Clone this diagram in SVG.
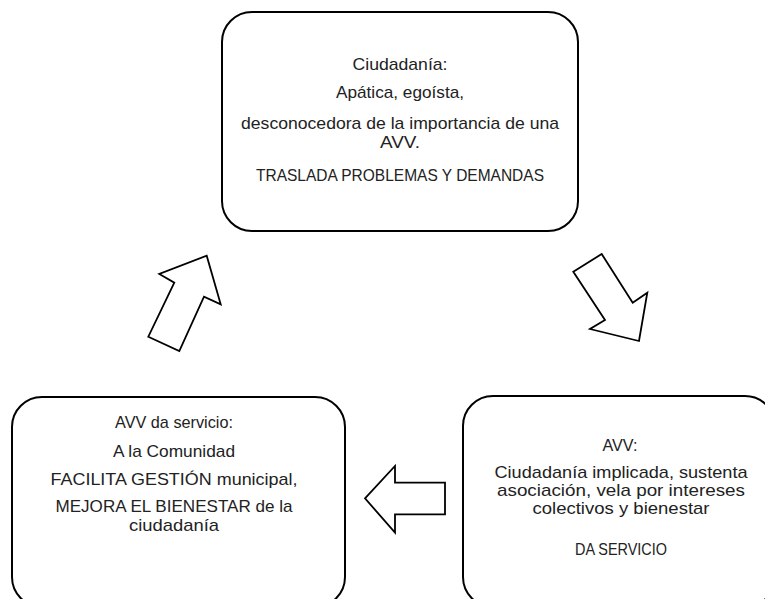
<svg xmlns="http://www.w3.org/2000/svg" width="765" height="599" viewBox="0 0 765 599">
<style>
.box{fill:#fff;stroke:#000;stroke-width:2}
.arr{fill:#fff;stroke:#000;stroke-width:1.8;stroke-linejoin:miter}
text{font-family:"Liberation Sans",Arial,sans-serif;font-size:17px;fill:#222;text-anchor:middle}
</style>
<rect width="765" height="599" fill="#fff"/>
<g id="top">
<rect class="box" x="222" y="12" width="356" height="219" rx="30" ry="30"/>
<text x="400" y="70" textLength="95" lengthAdjust="spacingAndGlyphs">Ciudadanía:</text>
<text x="400" y="97.5" textLength="128" lengthAdjust="spacingAndGlyphs">Apática, egoísta,</text>
<text x="400" y="129" textLength="318" lengthAdjust="spacingAndGlyphs">desconocedora de la importancia de una</text>
<text x="400" y="147.5" textLength="40" lengthAdjust="spacingAndGlyphs">AVV.</text>
<text x="400" y="181" textLength="288" lengthAdjust="spacingAndGlyphs">TRASLADA PROBLEMAS Y DEMANDAS</text>
</g>
<g id="left">
<rect class="box" x="12" y="397" width="333" height="210" rx="30" ry="30"/>
<text x="174" y="428" textLength="118" lengthAdjust="spacingAndGlyphs">AVV da servicio:</text>
<text x="174" y="457" textLength="122" lengthAdjust="spacingAndGlyphs">A la Comunidad</text>
<text x="174" y="484.5" textLength="247" lengthAdjust="spacingAndGlyphs">FACILITA GESTIÓN municipal,</text>
<text x="174" y="512" textLength="237" lengthAdjust="spacingAndGlyphs">MEJORA EL BIENESTAR de la</text>
<text x="174" y="530.5" textLength="90" lengthAdjust="spacingAndGlyphs">ciudadanía</text>
</g>
<g id="right">
<rect class="box" x="463" y="396" width="312" height="211" rx="30" ry="30"/>
<text x="620" y="451" textLength="35" lengthAdjust="spacingAndGlyphs">AVV:</text>
<text x="621" y="478" textLength="253" lengthAdjust="spacingAndGlyphs">Ciudadanía implicada, sustenta</text>
<text x="621" y="496" textLength="248" lengthAdjust="spacingAndGlyphs">asociación, vela por intereses</text>
<text x="621" y="514" textLength="177" lengthAdjust="spacingAndGlyphs">colectivos y bienestar</text>
<text x="621" y="555" textLength="92" lengthAdjust="spacingAndGlyphs">DA SERVICIO</text>
</g>
<g id="connectors">
<polygon class="arr" points="148.3,336.7 179.3,351 204,296.7 220.7,304.3 206.7,255.7 159.3,274 174.3,282.7"/>
<polygon class="arr" points="573.3,271.7 601.7,254 632.7,302.7 647.3,292.7 639,341 590,329 605,320"/>
<polygon class="arr" points="365,498.3 395,466 395,482.7 445,482.7 445,514.3 395,514.3 395,532.7"/>
</g>
</svg>
